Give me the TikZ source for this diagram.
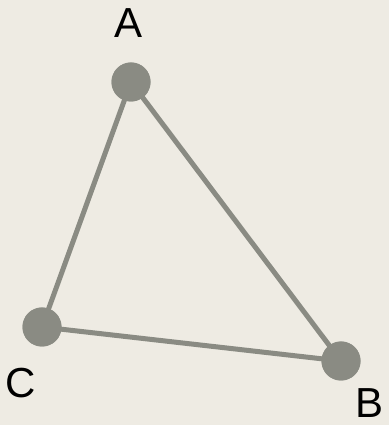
\documentclass[tikz,border=0pt]{standalone}
\usepackage{fontspec}
\setmainfont{Liberation Sans}
\definecolor{bg}{HTML}{EEEBE3}
\definecolor{gr}{HTML}{8A8B83}
\begin{document}
\begin{tikzpicture}[x=1pt,y=1pt,
  vert/.style={circle,fill=gr,minimum size=39pt,inner sep=0pt},
  lab/.style={font=\fontsize{42}{42}\selectfont,text=black,inner sep=0pt},
  edge/.style={draw=gr,line width=5pt}]
\fill[bg] (0,0) rectangle (389,425);
\useasboundingbox (0,0) rectangle (389,425);
\node[vert] (A) at (131,343) {};
\node[vert] (C) at (42,98) {};
\node[vert] (B) at (341,64) {};
\draw[edge] (A.center) -- (B.center) -- (C.center) -- (A.center);
\node[vert] at (A) {};
\node[vert] at (B) {};
\node[vert] at (C) {};
\node[lab] (lA) at (129,402) {A};
\node[lab] (lC) at (21,42) {C};
\node[lab] (lB) at (370,22) {B};
\end{tikzpicture}
\end{document}
